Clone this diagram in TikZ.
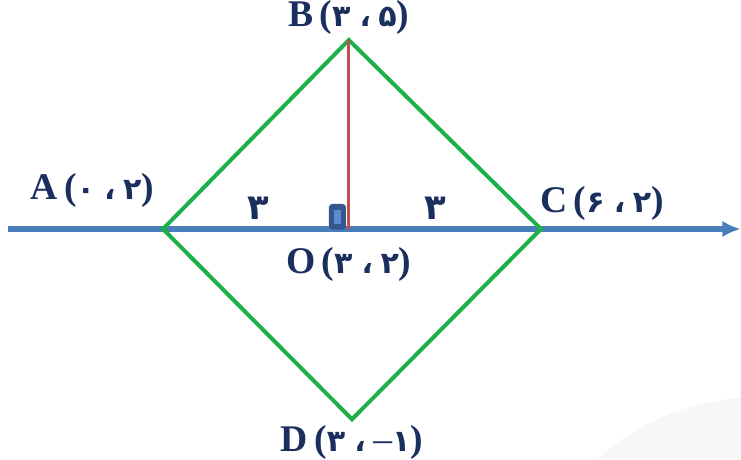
\documentclass[tikz,border=0pt]{standalone}
\usepackage{fontspec}
\setmainfont{Liberation Serif}
\newfontfamily\farsifont[Script=Arabic,Scale=0.8]{DejaVu Sans}
\usetikzlibrary{arrows.meta,positioning}
\definecolor{axisblue}{HTML}{4A7EBB}
\definecolor{edgegreen}{HTML}{1DB04A}
\definecolor{heightred}{HTML}{C0504D}
\definecolor{labelnavy}{HTML}{1B2F5E}
\definecolor{markblue}{HTML}{34578F}
\definecolor{marklight}{HTML}{5B8BD0}
\definecolor{swoosh}{HTML}{F7F7F7}
\newcommand{\ptlabel}[3]{#1\,({\farsifont #2\hspace{0.3em}،\hspace{0.25em}#3})}

\begin{document}
\begin{tikzpicture}[>=Latex, every node/.style={font=\fontsize{17}{19}\selectfont\bfseries, text=labelnavy, inner sep=1pt},
  axis/.style={axisblue, line width=2.3pt},
  edge/.style={edgegreen, line width=1.8pt, line join=miter},
  height/.style={heightred, line width=1.5pt},
  dist/.style={font=\fontsize{20}{22}\selectfont\bfseries}]
  \useasboundingbox (-2.587,-1.651) rectangle (9.175,5.635);
  % faint background swoosh
  \fill[swoosh] (6.9,-1.651) .. controls (7.6,-1.0) and (8.4,-0.75) .. (9.175,-0.68) -- (9.175,-1.651) -- cycle;
  % points
  \coordinate (A) at (0,2);
  \coordinate (C) at (6,2);
  \coordinate (B) at (2.95,5);
  \coordinate (D) at (3,-1.02);
  \coordinate (O) at (2.95,2);
  \coordinate (axL) at (-2.46,2);
  \coordinate (axR) at (9.17,2);
  % axis
  \draw[axis, -{Latex[length=2.9mm,width=2.6mm]}] (axL) -- (axR);
  % sides of the square
  \draw[edge] (A) -- (B) -- (C) -- (D) -- cycle;
  % right angle mark and height
  \fill[markblue, rounded corners=1.5pt] (2.635,1.99) rectangle (2.905,2.397);
  \fill[marklight] (2.714,2.079) rectangle (2.825,2.302);
  \draw[height] (B) -- (O);
  % labels
  \node[above=0.5mm of B] (labB) {\ptlabel{B}{۳}{۵}};
  \node[above left=0.3cm and 0.1cm of A] (labA) {\ptlabel{A}{۰}{۲}};
  \node[above right=0.1cm and -0.05cm of C] (labC) {\ptlabel{C}{۶}{۲}};
  \node[below=0.25cm of O] (labO) {\ptlabel{O}{۳}{۲}};
  \node[below=0.05cm of D] (labD) {\ptlabel{D}{۳}{\rmfamily\mdseries–\bfseries\farsifont ۱}};
  \node[dist] (dAO) at (1.51,2.33) {\farsifont ۳};
  \node[dist] (dOC) at (4.32,2.33) {\farsifont ۳};
\end{tikzpicture}
\end{document}
